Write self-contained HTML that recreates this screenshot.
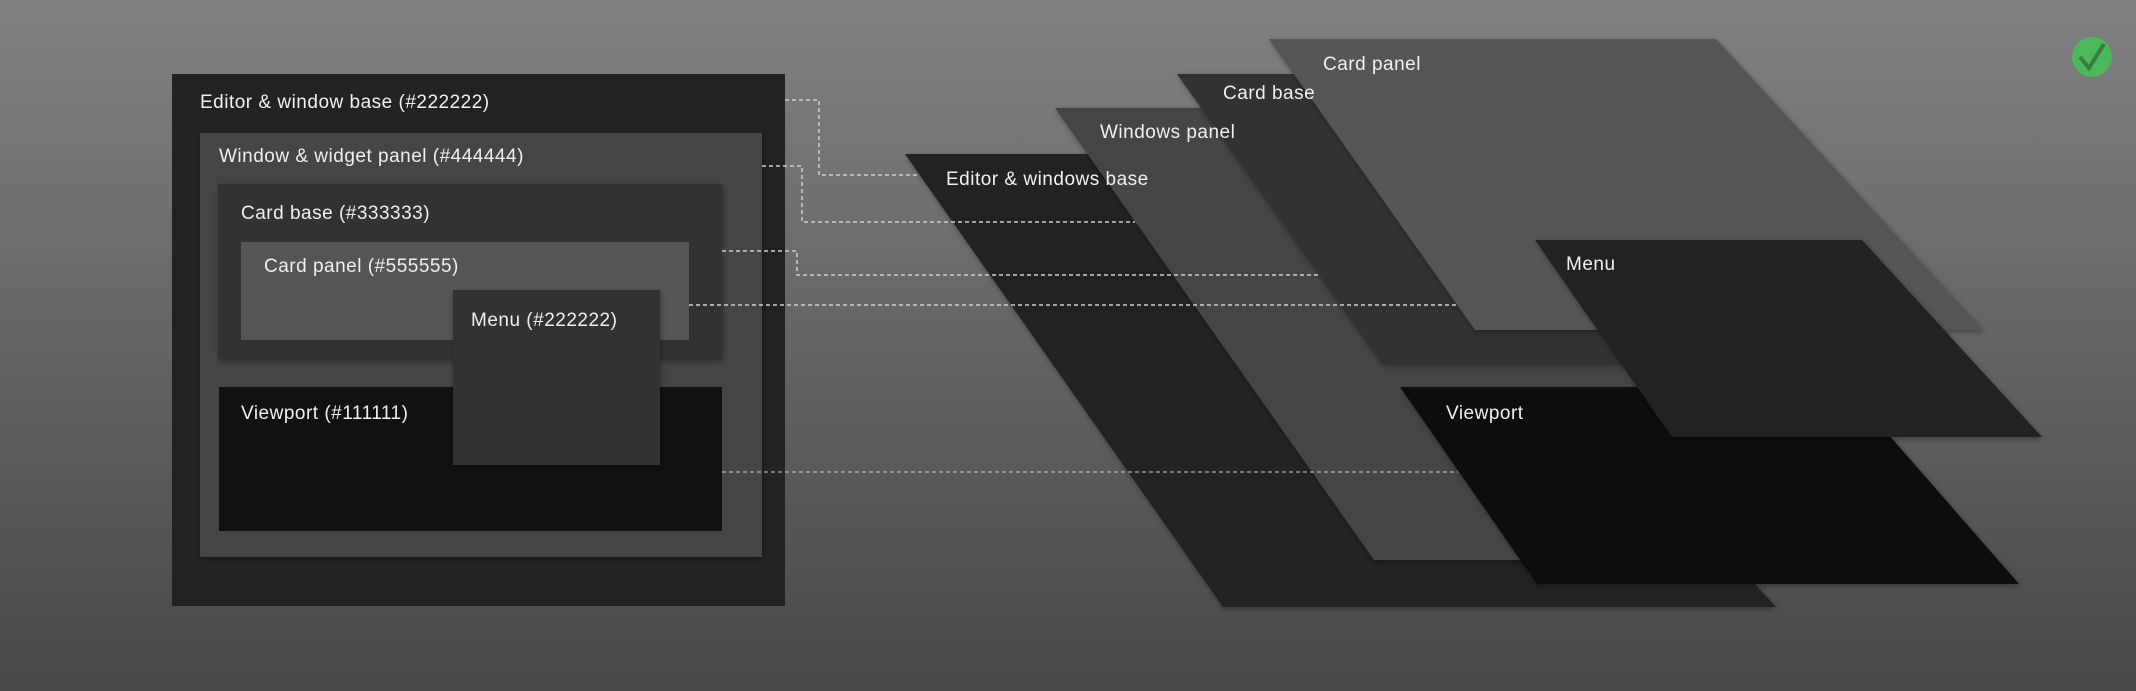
<!DOCTYPE html>
<html><head><meta charset="utf-8"><style>
html,body{margin:0;padding:0}
body{width:2136px;height:691px;overflow:hidden;background:linear-gradient(#818181,#474747);}
svg{display:block}
text{font-family:"Liberation Sans",sans-serif;font-size:19px;letter-spacing:0.5px;fill:#f0f0f0}
</style></head><body>
<svg width="2136" height="691" viewBox="0 0 2136 691" xmlns="http://www.w3.org/2000/svg">
<defs>
<filter id="sh" x="-10%" y="-10%" width="120%" height="120%"><feDropShadow dx="1" dy="2" stdDeviation="3" flood-color="#000" flood-opacity="0.35"/></filter>
</defs>
<rect x="172" y="74" width="613" height="532" fill="#222"/>
<rect x="200" y="133" width="562" height="424" fill="#444" filter="url(#sh)"/>
<rect x="218" y="184" width="504" height="175" fill="#333" filter="url(#sh)"/>
<rect x="241" y="242" width="448" height="98" fill="#555"/>
<rect x="219" y="387" width="503" height="144" fill="#111"/>
<rect x="453" y="290" width="207" height="175" fill="#333" filter="url(#sh)"/>
<text x="200" y="108">Editor &amp; window base (#222222)</text>
<text x="219" y="162">Window &amp; widget panel (#444444)</text>
<text x="241" y="219">Card base (#333333)</text>
<text x="264" y="272">Card panel (#555555)</text>
<text x="471" y="326">Menu (#222222)</text>
<text x="241" y="419">Viewport (#111111)</text>
<polygon points="905,154 1360,154 1776,607 1223,607" fill="#222" filter="url(#sh)"/>
<polygon points="1055,108 1510,108 1925,560 1374,560" fill="#444" filter="url(#sh)"/>
<polygon points="1177,74 1620,74 1890,364 1382,364" fill="#333" filter="url(#sh)"/>
<polygon points="1269,39 1716,39 1983,330 1475,330" fill="#555" filter="url(#sh)"/>
<polygon points="1400,387 1847,387 2019,584 1537,584" fill="#111" filter="url(#sh)"/>
<polygon points="1535,240 1862,240 2042,437 1672,437" fill="#222" filter="url(#sh)"/>
<text x="1323" y="70">Card panel</text>
<text x="1223" y="99">Card base</text>
<text x="1100" y="138">Windows panel</text>
<text x="946" y="185">Editor &amp; windows base</text>
<text x="1566" y="270">Menu</text>
<text x="1446" y="419">Viewport</text>
<g fill="none" stroke="#cfcfcf" stroke-width="1.5" stroke-dasharray="4 3">
<polyline points="785,100 819,100 819,175 920,175"/>
<polyline points="762,166 802,166 802,222 1135,222"/>
<polyline points="722,251 797,251 797,275 1318,275"/>
<polyline points="689,305 1458,305"/>
<polyline points="722,472 1458,472" stroke-width="1"/>
</g>
<circle cx="2092" cy="57" r="20" fill="#4cb85c"/>
<polyline points="2080,57 2089,68 2104,44" fill="none" stroke="#3a7a44" stroke-width="4"/>
</svg>
</body></html>
